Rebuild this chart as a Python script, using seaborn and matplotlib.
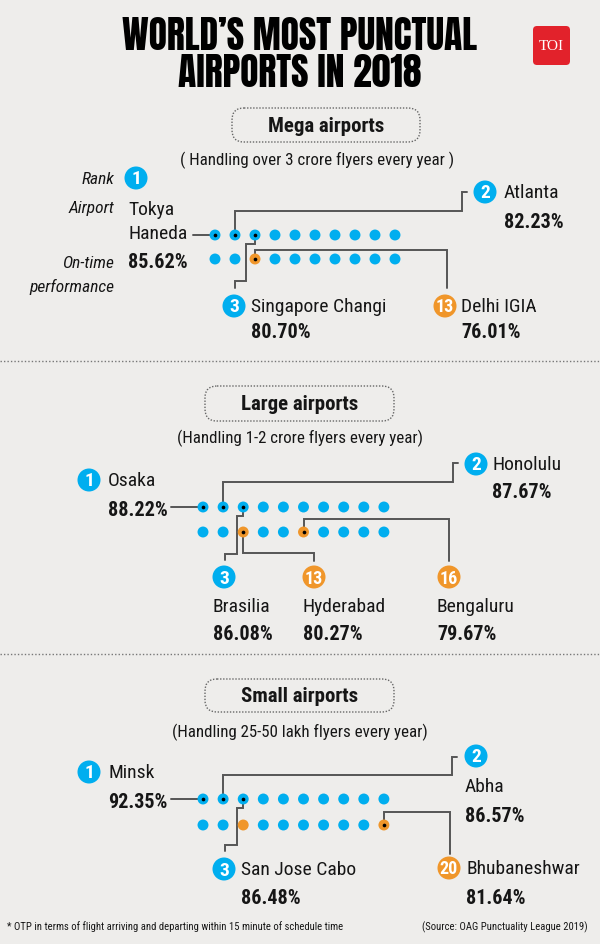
import numpy as np
import pandas as pd
import seaborn as sns
import matplotlib.pyplot as plt
from matplotlib.patches import Circle, FancyBboxPatch

sections = ["Mega airports", "Large airports", "Small airports"]
subtitles = ["( Handling over 3 crore flyers every year )",
             "(Handling 1-2 crore flyers every year)",
             "(Handling 25-50 lakh flyers every year)"]

mega_names = ["Tokya\nHaneda", "Atlanta", "Singapore Changi", "Delhi IGIA"]
mega_ranks = [1, 2, 3, 13]
mega_otp = [85.62, 82.23, 80.70, 76.01]
mega_india = [13]

large_names = ["Osaka", "Honolulu", "Brasilia", "Hyderabad", "Bengaluru"]
large_ranks = [1, 2, 3, 13, 16]
large_otp = [88.22, 87.67, 86.08, 80.27, 79.67]
large_india = [13, 16]

small_names = ["Minsk", "Abha", "San Jose Cabo", "Bhubaneshwar"]
small_ranks = [1, 2, 3, 20]
small_otp = [92.35, 86.57, 86.48, 81.64]
small_india = [13, 20]

n_ranked = 20

BLUE = "#00aeef"
ORANGE = "#f0962a"
INK = "#161616"
LINE = "#555555"
BG = "#eeedeb"

sns.set_theme(style="white")
plt.rcParams['font.family'] = ['Roboto Condensed', 'DejaVu Sans']

fig = plt.figure(figsize=(6, 9.45), dpi=100, facecolor=BG)
ax = fig.add_axes([0, 0, 1, 1])
ax.set_facecolor(BG)

# layout of each section: dot grid origin, spacing, label spots
layout = [
    dict(x0=215, step=20, rows=(236, 260), box=(220, 109, 432, 143), title=(326, 126), sub=(317, 160),
         labels=[
             dict(circ=(136, 179), name=(128, 222), pct=(128, 263), path=[(193, 236)]),
             dict(circ=(485, 193), name=(504, 193), pct=(504, 222), path=[("d", 212), (462, 212), (462, 193), (467, 193)]),
             dict(circ=(234, 307), name=(251, 307), pct=(251, 333), path=[("d", 245), (246, 245), (246, 282), (235, 282), (235, 289)]),
             dict(circ=(445, 307), name=(461, 307), pct=(461, 333), path=[("d", 251), (447, 251), (447, 289)]),
         ]),
    dict(x0=203, step=20.1, rows=(508, 533), box=(193, 387, 406, 422), title=(300, 404), sub=(300, 438),
         labels=[
             dict(circ=(89, 481), name=(108, 481), pct=(108, 510), path=[(171, 508)]),
             dict(circ=(476, 465), name=(492, 465), pct=(492, 493), path=[("d", 483), (453, 483), (453, 464), (458, 464)]),
             dict(circ=(224, 578), name=(213, 607), pct=(213, 634), path=[("d", 517), (237, 517), (237, 555), (225, 555), (225, 561)]),
             dict(circ=(314, 578), name=(303, 607), pct=(303, 634), path=[("d", 554), (314, 554), (314, 562)]),
             dict(circ=(449, 578), name=(437, 607), pct=(437, 634), path=[("d", 520), (449, 520), (449, 562)]),
         ]),
    dict(x0=203, step=20.1, rows=(800, 826), box=(193, 680, 406, 713), title=(300, 696), sub=(300, 732),
         labels=[
             dict(circ=(89, 773), name=(108, 773), pct=(108, 802), path=[(171, 800)]),
             dict(circ=(476, 757), name=(465, 787), pct=(465, 816), path=[("d", 776), (452, 776), (452, 758), (457, 758)]),
             dict(circ=(224, 870), name=(241, 870), pct=(241, 898), path=[("d", 809), (237, 809), (237, 846), (225, 846), (225, 852)]),
             dict(circ=(449, 869), name=(466, 869), pct=(466, 898), path=[("d", 813), (450, 813), (450, 855)]),
         ]),
]

all_names = [mega_names, large_names, small_names]
all_ranks = [mega_ranks, large_ranks, small_ranks]
all_otp = [mega_otp, large_otp, small_otp]
all_india = [mega_india, large_india, small_india]

# title + logo
for y, line in [(36, "WORLD\u2019S MOST PUNCTUAL"), (73, "AIRPORTS IN 2018")]:
    ax.text(300, y, line, ha="center", va="center", fontsize=27, color="black",
            family=["Anton", "DejaVu Sans"])
ax.add_patch(FancyBboxPatch((533, 27), 37, 39, boxstyle="round,pad=0,rounding_size=4",
                            facecolor="#e2222b", edgecolor="none"))
ax.text(551.5, 47, "TOI", ha="center", va="center", fontsize=11, color="white",
        family="Liberation Serif")

# dotted separators
for y in (362, 655):
    ax.plot([0, 600], [y, y], color="#777777", lw=1, ls=(0, (1, 1.5)))

dots = []
centres = []
for s, lay in enumerate(layout):
    for r in range(1, n_ranked + 1):
        col, row = (r - 1) % 10, (r - 1) // 10
        dots.append(dict(x=lay["x0"] + col * lay["step"], y=lay["rows"][row],
                         kind="india" if r in all_india[s] else "other"))
    for r in all_ranks[s]:
        col, row = (r - 1) % 10, (r - 1) // 10
        centres.append(dict(x=lay["x0"] + col * lay["step"], y=lay["rows"][row]))

dots = pd.DataFrame(dots)
centres = pd.DataFrame(centres)

for s, lay in enumerate(layout):
    # section header box
    x1, y1, x2, y2 = lay["box"]
    ax.add_patch(FancyBboxPatch((x1 + 12, y1), x2 - x1 - 24, y2 - y1,
                                boxstyle="round,pad=0,rounding_size=12",
                                facecolor="none", edgecolor="#666666", lw=1, ls=(0, (1, 1.2))))
    ax.text(*lay["title"], sections[s], ha="center", va="center", fontsize=15,
            fontweight="bold", color=INK)
    ax.text(*lay["sub"], subtitles[s], ha="center", va="center", fontsize=12.2, color=INK)

    for i, (name, rank, otp) in enumerate(zip(all_names[s], all_ranks[s], all_otp[s])):
        lab = lay["labels"][i]
        col, row = (rank - 1) % 10, (rank - 1) // 10
        dx, dy = lay["x0"] + col * lay["step"], lay["rows"][row]
        # connector
        px, py = [dx], [dy]
        for p in lab["path"]:
            px.append(dx if p[0] == "d" else p[0])
            py.append(p[1])
        ax.plot(px, py, color=LINE, lw=1.4, solid_joinstyle="miter", zorder=1)
        # rank badge
        colour = ORANGE if rank in all_india[s] else BLUE
        cx, cy = lab["circ"]
        ax.add_patch(Circle((cx, cy), 11.5, facecolor=colour, edgecolor="none", zorder=3))
        ax.text(cx, cy + 0.5, str(rank), ha="center", va="center", fontsize=14 if rank < 10 else 13,
                fontweight="bold", color="white", zorder=4)
        ax.text(*lab["name"], name, ha="left", va="center", fontsize=14, color=INK,
                linespacing=1.4)
        ax.text(*lab["pct"], f"{otp:.2f}%", ha="left", va="center", fontsize=14.5,
                fontweight="bold", color=INK)

sns.scatterplot(data=dots, x="x", y="y", hue="kind", palette={"other": BLUE, "india": ORANGE},
                s=62, linewidth=0, legend=False, ax=ax, zorder=2)
sns.scatterplot(data=centres, x="x", y="y", color="black", s=7, linewidth=0, legend=False,
                ax=ax, zorder=5)
ax.set_xlim(0, 600)
ax.set_ylim(945, 0)
ax.axis("off")

# left-side key for the mega panel
for txt, y in [("Rank", 179), ("Airport", 209), ("On-time", 263), ("performance", 287)]:
    ax.text(114, y, txt, ha="right", va="center", fontsize=12.5, style="italic", color=INK)

ax.text(7, 927, "* OTP in terms of flight arriving and departing within 15 minute of schedule time",
        ha="left", va="center", fontsize=7.7, color=INK)
ax.text(588, 927, "(Source: OAG Punctuality League 2019)", ha="right", va="center",
        fontsize=7.7, color=INK)

fig.savefig("out.png", dpi=100, facecolor=BG)
